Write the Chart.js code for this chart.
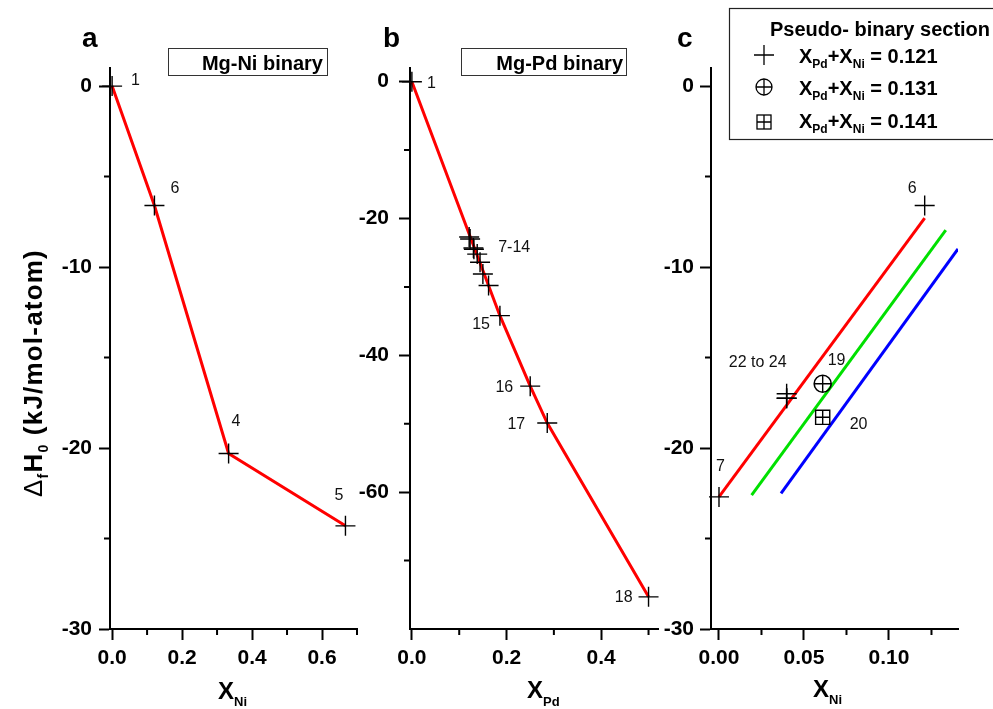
<!DOCTYPE html>
<html>
<head>
<meta charset="utf-8">
<script src="https://cdn.jsdelivr.net/npm/chart.js@4.4.1/dist/chart.umd.min.js"></script>
<style>
  body { margin: 0; background: #fff; }
  #wrap { position: relative; width: 993px; height: 709px; overflow: hidden; }
  canvas { position: absolute; top: 0; }
  svg { position: absolute; left: 0; top: 0; }
  svg text { font-family: 'Liberation Sans', Arial, sans-serif; fill: #000; }
</style>
</head>
<body>
<div id="wrap">
  <canvas id="chartA" width="370" height="709" style="left:0px"></canvas>
  <canvas id="chartB" width="330" height="709" style="left:340px"></canvas>
  <canvas id="chartC" width="353" height="709" style="left:640px"></canvas>
  <svg id="overlay" width="993" height="709">
    <!-- panel letters -->
    <text x="82" y="47" font-size="28" font-weight="bold">a</text>
    <text x="383" y="47" font-size="28" font-weight="bold">b</text>
    <text x="677" y="47" font-size="28" font-weight="bold">c</text>

    <!-- panel boxes -->
    <rect x="168.5" y="48.5" width="159" height="27" fill="none" stroke="#333" stroke-width="1"/>
    <text x="323" y="70" font-size="20" font-weight="bold" text-anchor="end">Mg-Ni binary</text>
    <rect x="461.5" y="48.5" width="165" height="27" fill="none" stroke="#333" stroke-width="1"/>
    <text x="623" y="70" font-size="20" font-weight="bold" text-anchor="end">Mg-Pd binary</text>

    <!-- legend of panel c -->
    <rect x="729.5" y="8.5" width="290" height="131" fill="#fff" stroke="#222" stroke-width="1.2"/>
    <text x="770" y="36" font-size="20" font-weight="bold">Pseudo- binary section</text>
    <g stroke="#000" fill="none" stroke-width="1.3">
      <path d="M754 55 H774 M764 45 V65"/>
      <circle cx="764" cy="87" r="8"/>
      <path d="M756 87 H772 M764 79 V95"/>
      <rect x="757" y="115" width="14" height="14"/>
      <path d="M757 122 H771 M764 115 V129"/>
    </g>
    <text x="799" y="63" font-size="20" font-weight="bold">X<tspan font-size="12" dy="5">Pd</tspan><tspan dy="-5">+X</tspan><tspan font-size="12" dy="5">Ni</tspan><tspan dy="-5"> = 0.121</tspan></text>
    <text x="799" y="95" font-size="20" font-weight="bold">X<tspan font-size="12" dy="5">Pd</tspan><tspan dy="-5">+X</tspan><tspan font-size="12" dy="5">Ni</tspan><tspan dy="-5"> = 0.131</tspan></text>
    <text x="799" y="128" font-size="20" font-weight="bold">X<tspan font-size="12" dy="5">Pd</tspan><tspan dy="-5">+X</tspan><tspan font-size="12" dy="5">Ni</tspan><tspan dy="-5"> = 0.141</tspan></text>

    <!-- axis titles -->
    <text transform="translate(42,497) rotate(-90)" font-size="26" font-weight="bold" letter-spacing="1.2"><tspan font-weight="normal">Δ</tspan><tspan font-size="14" dy="6">f</tspan><tspan dy="-6">H</tspan><tspan font-size="14" dy="6">0</tspan><tspan dy="-6"> (kJ/mol-atom)</tspan></text>
    <text x="218" y="699" font-size="24" font-weight="bold">X<tspan font-size="13" dy="7">Ni</tspan></text>
    <text x="527" y="698" font-size="24" font-weight="bold">X<tspan font-size="13" dy="8">Pd</tspan></text>
    <text x="813" y="697" font-size="24" font-weight="bold">X<tspan font-size="13" dy="7">Ni</tspan></text>
  </svg>
</div>
<script>
// formation enthalpy, kJ/mol-atom

// a: Mg-Ni binary
const niA = [0, 0.121, 0.333, 0.667];
const dhA = [0, -6.6, -20.3, -24.3];

// b: Mg-Pd binary (1, 7-14, 15, 16, 17, 18)
const pdB = [0, 0.121, 0.123, 0.130, 0.131, 0.138, 0.144, 0.150, 0.162, 0.186, 0.250, 0.286, 0.500];
const dhB = [0, -22.7, -23.0, -24.3, -24.5, -25.2, -26.4, -28.1, -29.8, -34.2, -44.5, -49.9, -75.3];
const lineB = [0, 9, 10, 11, 12];

// c: pseudo-binary sections
const niC121 = [0, 0.0398, 0.0398, 0.0398, 0.121];
const dhC121 = [-22.7, -17.0, -17.25, -17.25, -6.6];
const niC131 = [0.061];
const dhC131 = [-16.45];
const niC141 = [0.061];
const dhC141 = [-18.3];
const fitNi121 = [0, 0.121],      fitDh121 = [-22.7, -7.3];
const fitNi131 = [0.0192, 0.1334], fitDh131 = [-22.6, -7.96];
const fitNi141 = [0.0365, 0.1406], fitDh141 = [-22.5, -9.0];

// ticks
const yMajA = [0, -10, -20, -30], yMinA = [-5, -15, -25];
const xMajA = [0, 0.2, 0.4, 0.6], xMinA = [0.1, 0.3, 0.5, 0.7];
const yMajB = [0, -20, -40, -60], yMinB = [-10, -30, -50, -70];
const xMajB = [0, 0.2, 0.4],      xMinB = [0.1, 0.3, 0.5];
const xMajC = [0, 0.05, 0.10],    xMinC = [0.025, 0.075, 0.125];

const FONT = "'Liberation Sans', Arial, sans-serif";

function isOn(list, v) { return list.some(t => Math.abs(t - v) < 1e-9); }
const pts = (xs, ys) => xs.map((x, i) => ({ x, y: ys[i] }));

function axis(min, max, major, minor, fmt, size, horizontal, pad) {
  return {
    type: 'linear',
    min, max,
    afterBuildTicks: s => {
      s.ticks = major.concat(minor).sort((a, b) => a - b).map(v => ({ value: v }));
    },
    afterFit: s => { if (horizontal) s.height = size; else s.width = size; },
    ticks: {
      autoSkip: false, maxRotation: 0, padding: pad, color: '#000',
      font: { family: FONT, size: 21, weight: 'bold' },
      callback: v => isOn(major, v) ? fmt(v) : ''
    },
    grid: {
      drawOnChartArea: false, tickLength: 11, tickWidth: 2,
      tickColor: c => (c.tick && isOn(major, c.tick.value)) ? '#000' : 'rgba(0,0,0,0)'
    },
    border: { color: '#000', width: 2 }
  };
}

// short ticks between the labelled ones
function minorTicks(xMinor, yMinor) {
  return {
    id: 'minorTicks',
    afterDraw(chart) {
      const { ctx, chartArea: a, scales: { x, y } } = chart;
      ctx.save();
      ctx.strokeStyle = '#000';
      ctx.lineWidth = 2;
      ctx.beginPath();
      xMinor.forEach(v => { const p = x.getPixelForValue(v); ctx.moveTo(p, a.bottom); ctx.lineTo(p, a.bottom + 6); });
      yMinor.forEach(v => { const p = y.getPixelForValue(v); ctx.moveTo(a.left - 6, p); ctx.lineTo(a.left, p); });
      ctx.stroke();
      ctx.restore();
    }
  };
}

function lineSet(data, color) {
  return { data, showLine: true, borderColor: color, borderWidth: 3, pointRadius: 0, fill: false };
}
function markerSet(data, style, r, w) {
  return {
    data, showLine: false, pointStyle: style, pointRadius: r,
    pointBorderColor: '#000', pointBackgroundColor: 'rgba(0,0,0,0)', pointBorderWidth: w, clip: false
  };
}

function panel(id, xAxis, yAxis, datasets, rightPad, xMinor, yMinor) {
  return new Chart(document.getElementById(id), {
    type: 'scatter',
    data: { datasets },
    options: {
      responsive: false, animation: false, devicePixelRatio: 1, events: [],
      layout: { padding: { top: 68, right: rightPad, left: 0, bottom: 0 } },
      scales: { x: xAxis, y: yAxis },
      plugins: { legend: { display: false }, tooltip: { enabled: false } }
    },
    plugins: [minorTicks(xMinor, yMinor)]
  });
}

const fmt1 = v => v.toFixed(1), fmt2 = v => v.toFixed(2), fmtY = v => String(v);

const chartA = panel('chartA',
  axis(-0.006, 0.7, xMajA, xMinA, fmt1, 80, true, 6),
  axis(-30, 1, yMajA, yMinA, fmtY, 110, false, 7),
  [markerSet(pts(niA, dhA), 'cross', 10, 1.4), lineSet(pts(niA, dhA), '#ff0000')],
  13, xMinA, yMinA);

const chartB = panel('chartB',
  axis(-0.004, 0.52, xMajB, xMinB, fmt1, 80, true, 6),
  axis(-80, 2, yMajB, yMinB, fmtY, 70, false, 10),
  [markerSet(pts(pdB, dhB), 'cross', 10, 1.4),
   lineSet(lineB.map(i => ({ x: pdB[i], y: dhB[i] })), '#ff0000')],
  12, xMinB, yMinB);

const chartC = panel('chartC',
  axis(-0.0047, 0.1406, xMajC, xMinC, fmt2, 80, true, 6),
  axis(-30, 1, yMajA, yMinA, fmtY, 71, false, 6),
  [markerSet(pts(niC121, dhC121), 'cross', 10, 1.4),
   markerSet(pts(niC131, dhC131), 'circle', 8.5, 1.6),
   markerSet(pts(niC131, dhC131), 'cross', 8.5, 1.4),
   markerSet(pts(niC141, dhC141), 'rect', 10, 1.4),
   markerSet(pts(niC141, dhC141), 'cross', 7, 1.4),
   lineSet(pts(fitNi121, fitDh121), '#ff0000'),
   lineSet(pts(fitNi131, fitDh131), '#00e000'),
   lineSet(pts(fitNi141, fitDh141), '#0000ff')],
  35, xMinC, yMinA);

// sample numbers next to the markers: [text, index, dx, dy, anchor]
const tagsA = [['1', 0, 19, -1, 'start'], ['6', 1, 16, -13, 'start'], ['4', 2, 3, -27, 'start'], ['5', 3, -11, -26, 'start']];
const tagsB = [['1', 0, 15, 6, 'start'], ['7-14', 1, 29, 15, 'start'], ['15', 9, -10, 13, 'end'],
               ['16', 10, -17, 6, 'end'], ['17', 11, -22, 6, 'end'], ['18', 12, -16, 5, 'end']];
const tagsC121 = [['7', 0, -3, -26, 'start'], ['22 to 24', 1, 0, -27, 'end'], ['6', 4, -17, -13, 'start']];
const tagsC131 = [['19', 0, 5, -19, 'start']];
const tagsC141 = [['20', 0, 27, 12, 'start']];

const svg = document.getElementById('overlay');
function tag(chart, left, xs, ys, list) {
  list.forEach(([text, i, dx, dy, anchor]) => {
    const t = document.createElementNS('http://www.w3.org/2000/svg', 'text');
    t.setAttribute('x', left + chart.scales.x.getPixelForValue(xs[i]) + dx);
    t.setAttribute('y', chart.scales.y.getPixelForValue(ys[i]) + dy);
    t.setAttribute('font-size', '16');
    t.setAttribute('text-anchor', anchor);
    t.style.fill = '#111';
    t.textContent = text;
    svg.appendChild(t);
  });
}
tag(chartA, 0, niA, dhA, tagsA);
tag(chartB, 340, pdB, dhB, tagsB);
tag(chartC, 640, niC121, dhC121, tagsC121);
tag(chartC, 640, niC131, dhC131, tagsC131);
tag(chartC, 640, niC141, dhC141, tagsC141);
</script>
</body>
</html>
